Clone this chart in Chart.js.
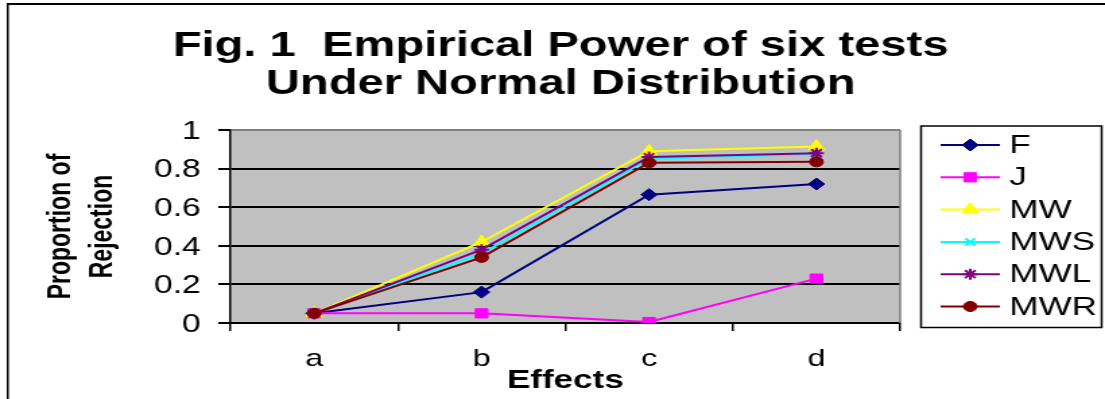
<!DOCTYPE html>
<html>
<head>
<meta charset="utf-8">
<script src="https://cdn.jsdelivr.net/npm/chart.js@4/dist/chart.umd.min.js"></script>
<style>
  body { margin: 0; background: #fff; }
</style>
</head>
<body>
<canvas id="grafico" width="820" height="399" style="display:block;width:1105px;height:399px"></canvas>
<script>
// datos
const efectos = ['a', 'b', 'c', 'd'];
const valoresF = [0.05, 0.16, 0.665, 0.72];
const valoresJ = [0.05, 0.05, 0.005, 0.23];
const valoresMW = [0.05, 0.42, 0.89, 0.915];
const valoresMWS = [0.05, 0.36, 0.85, 0.875];
const valoresMWL = [0.05, 0.38, 0.86, 0.88];
const valoresMWR = [0.05, 0.34, 0.83, 0.835];
const ticksY = [0, 0.2, 0.4, 0.6, 0.8, 1];

const titulo = ['Fig. 1  Empirical Power of six tests', 'Under Normal Distribution'];
const fuente = '"Liberation Sans", Arial, sans-serif';

// el lienzo se estira en horizontal como la imagen original (820 -> 1105)
const serie = (label, data, color, estilo, radio, orden) => ({
    label: label,
    data: data,
    borderColor: color,
    backgroundColor: color,
    borderWidth: 2,
    pointStyle: estilo,
    pointRadius: radio,
    pointBorderWidth: (estilo === 'crossRot' || estilo === 'star') ? 2 : 1,
    pointBackgroundColor: color,
    pointBorderColor: color,
    tension: 0,
    fill: false,
    order: orden
});

const dataPotencia = {
    labels: efectos,
    datasets: [
        serie('F', valoresF, '#000080', 'rectRot', 6, 6),
        serie('J', valoresJ, '#FF00FF', 'rect', 6.5, 5),
        serie('MW', valoresMW, '#FFFF00', 'triangle', 7, 4),
        serie('MWS', valoresMWS, '#00FFFF', 'crossRot', 5, 3),
        serie('MWL', valoresMWL, '#800080', 'star', 5.5, 2),
        serie('MWR', valoresMWR, '#800000', 'circle', 5, 1)
    ]
};

const pluginFondo = {
    id: 'fondo',
    beforeDraw(chart) {
        const ctx = chart.ctx;
        const a = chart.chartArea;
        ctx.save();
        ctx.fillStyle = '#ffffff';
        ctx.fillRect(0, 0, chart.width, chart.height);
        ctx.fillStyle = '#C0C0C0';
        ctx.fillRect(a.left, a.top, a.right - a.left, a.bottom - a.top);
        ctx.restore();
    },
    beforeDatasetsDraw(chart) {
        const ctx = chart.ctx;
        const a = chart.chartArea;
        ctx.save();
        ctx.strokeStyle = '#808080';
        ctx.lineWidth = 1.5;
        ctx.beginPath();
        ctx.moveTo(a.right, a.top);
        ctx.lineTo(a.right, a.bottom);
        ctx.stroke();
        ctx.restore();
    },
    afterDraw(chart) {
        const ctx = chart.ctx;
        ctx.save();
        // titulo
        ctx.fillStyle = '#000';
        ctx.font = 'bold 35px ' + fuente;
        ctx.textAlign = 'center';
        ctx.textBaseline = 'alphabetic';
        ctx.fillText(titulo[0], 416, 56);
        ctx.fillText(titulo[1], 416, 94);

        // leyenda
        ctx.strokeStyle = '#000';
        ctx.lineWidth = 1.5;
        ctx.strokeRect(683.5, 126, 134, 201.5);
        chart.data.datasets.forEach((ds, i) => {
            const y = 145 + i * 32.3;
            ctx.strokeStyle = ds.borderColor;
            ctx.lineWidth = 2;
            ctx.beginPath();
            ctx.moveTo(698, y);
            ctx.lineTo(742, y);
            ctx.stroke();
            ctx.fillStyle = ds.backgroundColor;
            ctx.lineWidth = ds.pointBorderWidth;
            Chart.helpers.drawPoint(ctx, {
                pointStyle: ds.pointStyle,
                radius: ds.pointRadius,
                borderWidth: ds.pointBorderWidth,
                rotation: 0
            }, 720, y);
            ctx.fillStyle = '#000';
            ctx.font = '26px ' + fuente;
            ctx.textAlign = 'left';
            ctx.textBaseline = 'middle';
            ctx.fillText(ds.label, 749, y + 1);
        });

        // marco exterior
        ctx.fillStyle = '#000';
        ctx.fillRect(5, 3, 1.5, chart.height);
        ctx.fillRect(5, 3, chart.width, 2);
        ctx.restore();
    }
};

const configPotencia = {
    type: 'line',
    data: dataPotencia,
    options: {
        responsive: false,
        devicePixelRatio: 1,
        animation: false,
        layout: {
            padding: { left: 0, top: 130, right: 152, bottom: 0 }
        },
        plugins: {
            legend: { display: false },
            tooltip: { enabled: false },
            title: { display: false }
        },
        scales: {
            x: {
                type: 'category',
                offset: true,
                afterFit: (scale) => { scale.height = 76; },
                grid: {
                    offset: true,
                    drawOnChartArea: false,
                    drawTicks: true,
                    tickLength: 8,
                    color: '#000',
                    lineWidth: 1.5
                },
                border: { display: true, color: '#000', width: 2 },
                ticks: {
                    color: '#000',
                    padding: 14,
                    font: { family: fuente, size: 24 }
                },
                title: {
                    display: true,
                    text: 'Effects',
                    color: '#000',
                    padding: { top: 0, bottom: 4 },
                    font: { family: fuente, size: 26, weight: 'bold', lineHeight: 1.1 }
                }
            },
            y: {
                min: 0,
                max: 1,
                afterFit: (scale) => { scale.width = 171; },
                afterBuildTicks: (scale) => {
                    scale.ticks = ticksY.map(v => ({ value: v }));
                },
                grid: {
                    color: (c) => (c.tick && c.tick.value === 1) ? '#808080' : '#000',
                    tickColor: '#000',
                    lineWidth: 2,
                    tickWidth: 2,
                    tickLength: 9
                },
                border: { display: true, color: '#000', width: 1.5 },
                ticks: {
                    color: '#000',
                    padding: 13,
                    labelOffset: 2,
                    font: { family: fuente, size: 25 },
                    callback: (v) => String(Math.round(v * 10) / 10)
                },
                title: {
                    display: true,
                    text: ['Proportion of', 'Rejection'],
                    color: '#000',
                    padding: { top: 30, bottom: 0 },
                    font: { family: fuente, size: 23, weight: 'bold', lineHeight: 1.35 }
                }
            }
        }
    },
    plugins: [pluginFondo]
};

const graficoPotencia = new Chart(document.getElementById('grafico').getContext('2d'), configPotencia);
</script>
</body>
</html>
